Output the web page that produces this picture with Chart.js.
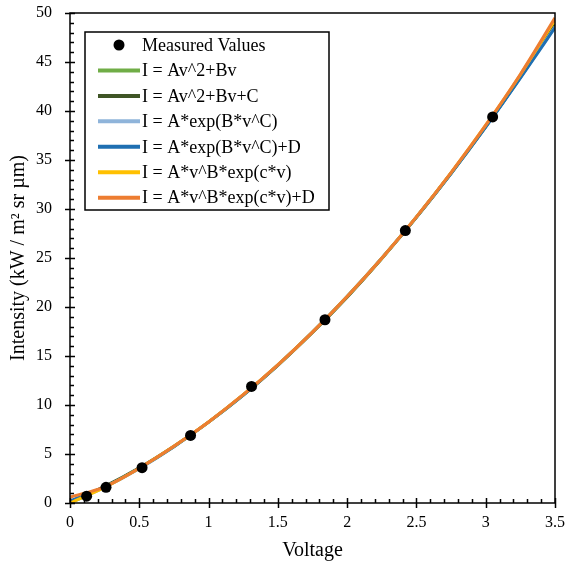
<!DOCTYPE html>
<html>
<head>
<meta charset="utf-8">
<script src="https://cdn.jsdelivr.net/npm/chart.js@4/dist/chart.umd.min.js"></script>
<style>
  html, body { margin: 0; padding: 0; background: #fff; }
  canvas { display: block; }
</style>
</head>
<body>
<canvas id="myChart" width="567" height="571"></canvas>
<script>
// measured points
const measuredV = [0.12, 0.26, 0.52, 0.87, 1.31, 1.84, 2.42, 3.05];
const measuredI = [0.7, 1.6, 3.6, 6.9, 11.9, 18.7, 27.8, 39.4];

// fitted curves, sampled every 0.25 V
const fitV = [0, 0.25, 0.5, 0.75, 1, 1.25, 1.5, 1.75, 2, 2.25, 2.5, 2.75, 3, 3.25, 3.5];
const quadNoC   = [0, 1.63, 3.55, 5.76, 8.25, 11.02, 14.08, 17.42, 21.05, 24.96, 29.17, 33.65, 38.41, 43.46, 48.8];
const quadC     = [0.1, 1.7, 3.6, 5.8, 8.25, 11.0, 14.05, 17.4, 21.0, 24.95, 29.15, 33.65, 38.4, 43.45, 48.8];
const expFit    = [0.05, 1.6, 3.5, 5.75, 8.25, 11.02, 14.1, 17.45, 21.1, 25.0, 29.2, 33.65, 38.4, 43.4, 48.6];
const expFitD   = [0.2, 1.65, 3.55, 5.75, 8.25, 11.0, 14.08, 17.43, 21.07, 24.98, 29.17, 33.62, 38.35, 43.35, 48.5];
const powExp    = [0, 1.6, 3.55, 5.78, 8.27, 11.05, 14.1, 17.44, 21.07, 24.98, 29.2, 33.72, 38.55, 43.7, 49.3];
const powExpD   = [0.6, 1.65, 3.55, 5.78, 8.27, 11.05, 14.1, 17.44, 21.07, 24.98, 29.2, 33.72, 38.55, 43.75, 49.5];

const fitLabels = ['I = Av^2+Bv', 'I = Av^2+Bv+C', 'I = A*exp(B*v^C)', 'I = A*exp(B*v^C)+D',
                   'I = A*v^B*exp(c*v)', 'I = A*v^B*exp(c*v)+D'];
const fitSeries = [quadNoC, quadC, expFit, expFitD, powExp, powExpD];
const fitColors = ['#70AD47', '#3F5526', '#8FB4DA', '#1F6FB2', '#FFC000', '#ED7D31'];

const serif = '"Liberation Serif", "Times New Roman", serif';

const pts = (xs, ys) => xs.map((x, i) => ({ x: x, y: ys[i] }));

const datasets = [{
  label: 'Measured Values',
  data: pts(measuredV, measuredI),
  showLine: false,
  pointRadius: 5.5,
  pointBackgroundColor: '#000',
  pointBorderWidth: 0,
  order: 0
}];
fitSeries.forEach((s, i) => {
  datasets.push({
    label: fitLabels[i],
    data: pts(fitV, s),
    showLine: true,
    borderColor: fitColors[i],
    borderWidth: 3,
    pointRadius: 0,
    cubicInterpolationMode: 'monotone',
    order: fitSeries.length - i
  });
});

// box around the plot plus inward/outward tick marks
const frameTicks = {
  id: 'frameTicks',
  afterDatasetsDraw(chart) {
    const { ctx, chartArea: a, scales: { x, y } } = chart;
    ctx.save();
    ctx.strokeStyle = '#000';
    ctx.lineWidth = 1.5;
    ctx.strokeRect(a.left, a.top, a.right - a.left, a.bottom - a.top);
    ctx.beginPath();
    for (let v = 0; v <= 50.001; v += 1) {
      const py = Math.round(y.getPixelForValue(v)) + 0.5;
      const major = Math.abs(v % 5) < 0.001;
      ctx.moveTo(a.left - (major ? 5 : 0), py);
      ctx.lineTo(a.left + (major ? 5 : 4), py);
    }
    for (let k = 0; k <= 35; k++) {
      const px = Math.round(x.getPixelForValue(k / 10)) + 0.5;
      const major = k % 5 === 0;
      ctx.moveTo(px, a.bottom + (major ? 5 : 0));
      ctx.lineTo(px, a.bottom - (major ? 5 : 4));
    }
    ctx.stroke();
    ctx.restore();
  }
};

// legend drawn inside the plot, upper left
const boxLegend = {
  id: 'boxLegend',
  afterDraw(chart) {
    const ctx = chart.ctx;
    const left = 85, top = 32, w = 244, h = 178, row0 = 45, step = 25.45;
    ctx.save();
    ctx.fillStyle = '#fff';
    ctx.fillRect(left, top, w, h);
    ctx.strokeStyle = '#000';
    ctx.lineWidth = 1.5;
    ctx.strokeRect(left, top, w, h);
    ctx.font = '18px ' + serif;
    ctx.textBaseline = 'middle';
    chart.data.datasets.forEach((ds, i) => {
      const yy = row0 + i * step;
      if (i === 0) {
        ctx.fillStyle = '#000';
        ctx.beginPath();
        ctx.arc(119, yy, 5.5, 0, Math.PI * 2);
        ctx.fill();
      } else {
        ctx.strokeStyle = ds.borderColor;
        ctx.lineWidth = 4;
        ctx.beginPath();
        ctx.moveTo(98, yy);
        ctx.lineTo(140, yy);
        ctx.stroke();
      }
      ctx.fillStyle = '#000';
      ctx.fillText(ds.label, 142, yy + 1);
    });
    ctx.restore();
  }
};

const tickText = v => String(Math.round(v * 10) / 10);

// fixed axis sizes, no extra room for label overflow
const noOverflow = s => {
  s.paddingTop = 0; s.paddingBottom = 0; s.paddingLeft = 0; s.paddingRight = 0;
};

new Chart(document.querySelector('#myChart'), {
  type: 'scatter',
  data: { datasets: datasets },
  plugins: [frameTicks, boxLegend],
  options: {
    responsive: false,
    animation: false,
    events: [],
    layout: { padding: { left: 0, right: 12, top: 13, bottom: 0 } },
    plugins: { legend: { display: false }, tooltip: { enabled: false } },
    scales: {
      x: {
        type: 'linear',
        min: 0,
        max: 3.5,
        afterFit(s) { s.height = 68; noOverflow(s); },
        grid: { display: true, drawOnChartArea: false, drawTicks: false },
        border: { display: false },
        ticks: { stepSize: 0.5, padding: 10, color: '#000', callback: tickText, font: { family: serif, size: 16 } },
        title: {
          display: true,
          text: 'Voltage',
          color: '#000',
          font: { family: serif, size: 20 },
          padding: { top: 8, bottom: 8 }
        }
      },
      y: {
        min: 0,
        max: 50,
        afterFit(s) { s.width = 70; noOverflow(s); },
        grid: { display: true, drawOnChartArea: false, drawTicks: false },
        border: { display: false },
        ticks: { stepSize: 5, padding: 18, color: '#000', callback: tickText, font: { family: serif, size: 16 } },
        title: {
          display: true,
          text: 'Intensity (kW / m² sr µm)',
          color: '#000',
          font: { family: serif, size: 20 },
          padding: { top: 7, bottom: 7 }
        }
      }
    }
  }
});
</script>
</body>
</html>
